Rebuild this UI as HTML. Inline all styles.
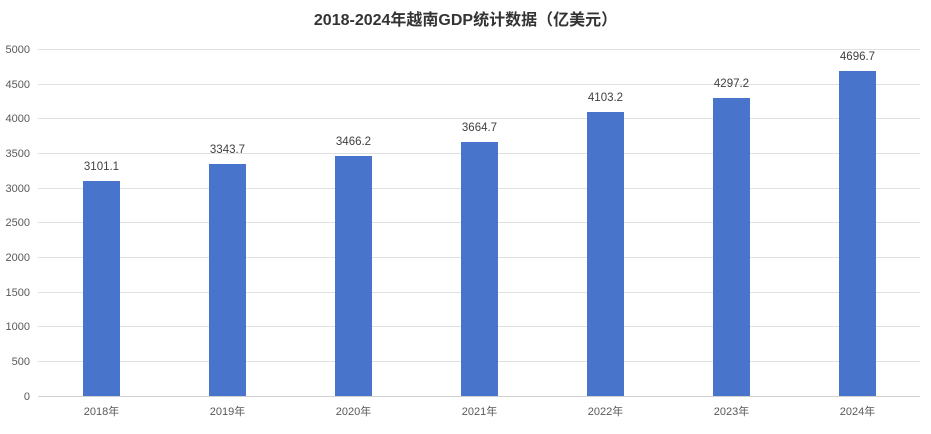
<!DOCTYPE html>
<html><head><meta charset="utf-8"><style>
html,body{margin:0;padding:0;background:#fff;}
svg{display:block;font-family:"Liberation Sans","Noto Sans CJK SC",sans-serif;}
</style></head><body>
<svg width="931" height="434" viewBox="0 0 931 434">
<text x="465.5" y="25" text-anchor="middle" font-size="16" font-weight="bold" fill="#333">2018-2024年越南GDP统计数据（亿美元）</text>
<g stroke="#e0e0e0" stroke-width="1">
<line x1="38" x2="920" y1="49.5" y2="49.5"/>
<line x1="38" x2="920" y1="84.5" y2="84.5"/>
<line x1="38" x2="920" y1="118.5" y2="118.5"/>
<line x1="38" x2="920" y1="153.5" y2="153.5"/>
<line x1="38" x2="920" y1="188.5" y2="188.5"/>
<line x1="38" x2="920" y1="222.5" y2="222.5"/>
<line x1="38" x2="920" y1="257.5" y2="257.5"/>
<line x1="38" x2="920" y1="292.5" y2="292.5"/>
<line x1="38" x2="920" y1="326.5" y2="326.5"/>
<line x1="38" x2="920" y1="361.5" y2="361.5"/>
</g>
<line x1="38" x2="920" y1="396.5" y2="396.5" stroke="#d0d0d0"/>
<g font-size="11" fill="#595959" text-anchor="end">
<text x="30" y="53">5000</text><text x="30" y="88">4500</text><text x="30" y="122">4000</text>
<text x="30" y="157">3500</text><text x="30" y="192">3000</text><text x="30" y="226">2500</text>
<text x="30" y="261">2000</text><text x="30" y="296">1500</text><text x="30" y="330">1000</text>
<text x="30" y="365">500</text><text x="30" y="400">0</text>
</g>
<g fill="#4874CB">
<rect x="83" y="181" width="37" height="215"/>
<rect x="209" y="164" width="37" height="232"/>
<rect x="335" y="156" width="37" height="240"/>
<rect x="461" y="142" width="37" height="254"/>
<rect x="587" y="112" width="37" height="284"/>
<rect x="713" y="98" width="37" height="298"/>
<rect x="839" y="71" width="37" height="325"/>
</g>
<g font-size="11.5" fill="#404040" text-anchor="middle">
<text x="101.5" y="170">3101.1</text>
<text x="227.5" y="153">3343.7</text>
<text x="353.5" y="145">3466.2</text>
<text x="479.5" y="131">3664.7</text>
<text x="605.5" y="101">4103.2</text>
<text x="731.5" y="87">4297.2</text>
<text x="857.5" y="60">4696.7</text>
</g>
<g font-size="11" fill="#595959" text-anchor="middle">
<text x="101.5" y="415">2018年</text><text x="227.5" y="415">2019年</text>
<text x="353.5" y="415">2020年</text><text x="479.5" y="415">2021年</text>
<text x="605.5" y="415">2022年</text><text x="731.5" y="415">2023年</text>
<text x="857.5" y="415">2024年</text>
</g>
</svg>
</body></html>
